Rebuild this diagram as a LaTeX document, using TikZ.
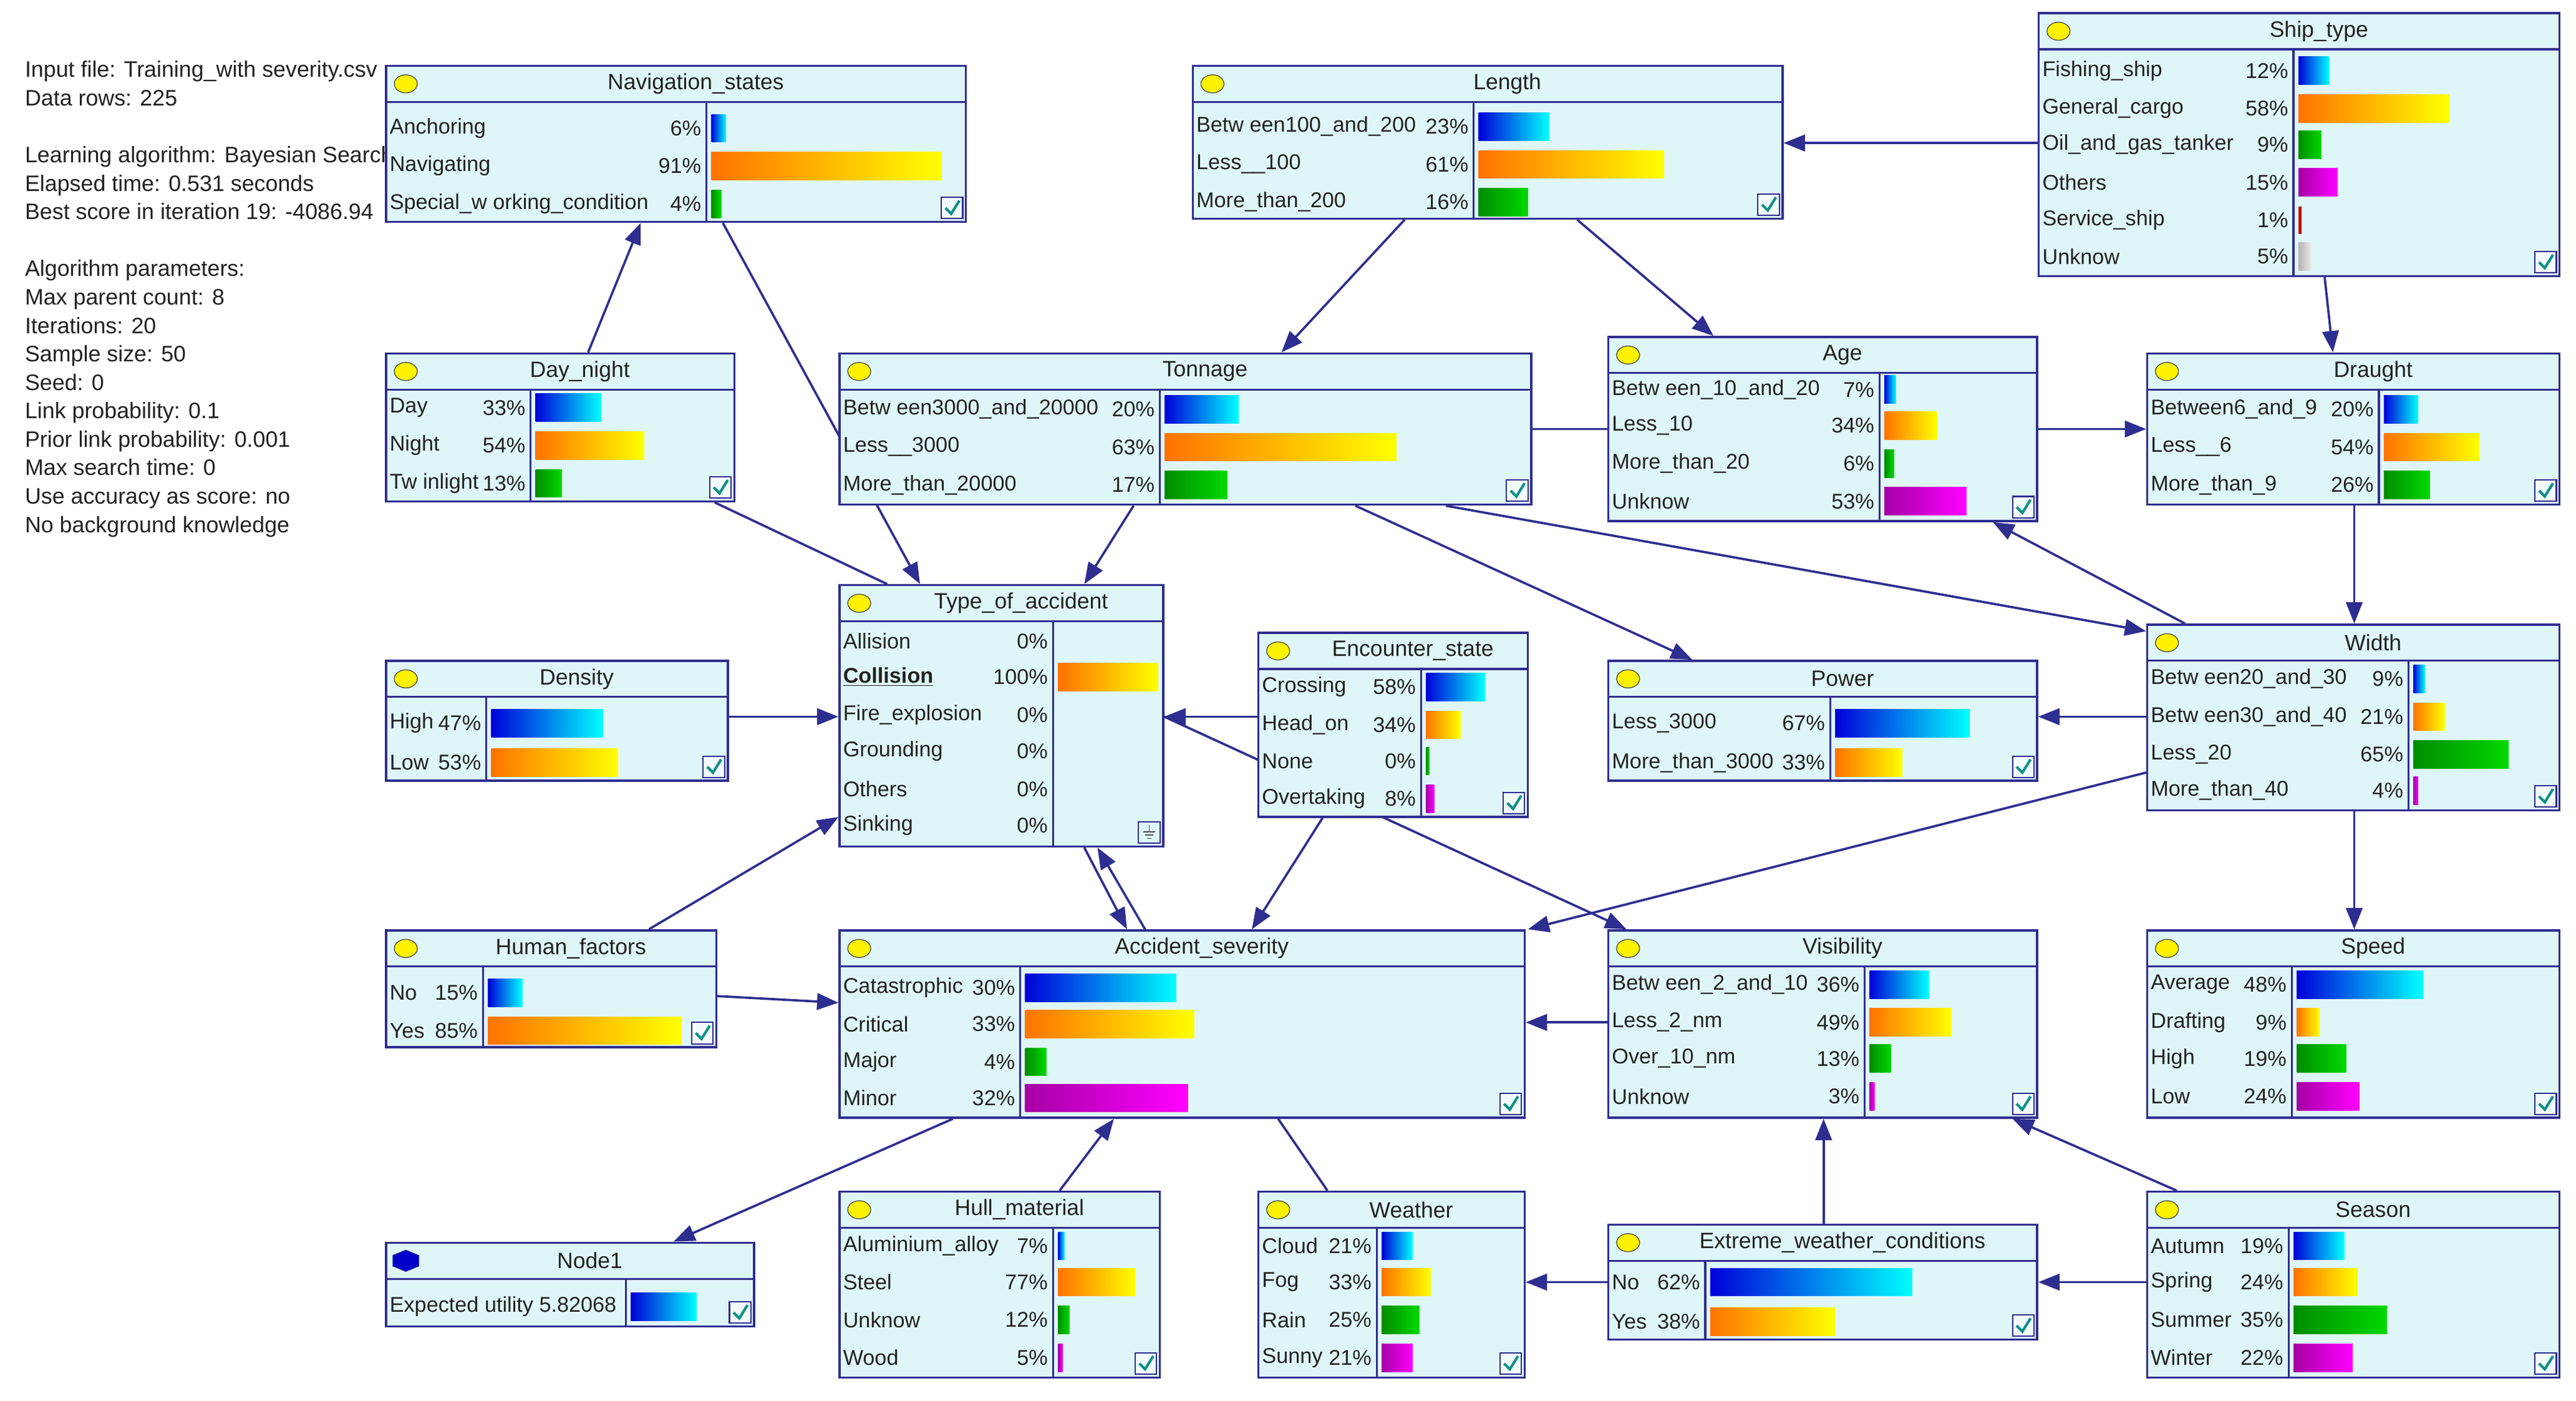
\documentclass[tikz,border=0pt]{standalone}
\usepackage{fontspec}
\setmainfont{Liberation Sans}
\usetikzlibrary{fit,arrows.meta,shapes.geometric}
\definecolor{navy}{HTML}{2E2E90}
\definecolor{bnbg}{HTML}{DFF6F8}
\definecolor{txt}{HTML}{222222}
\definecolor{chk}{HTML}{10908A}
\pgfdeclarelayer{bg}\pgfsetlayers{bg,main}
\tikzset{
 bnbox/.style={draw=navy,fill=bnbg,line width=1.3pt,inner sep=0pt,rectangle},
 bnline/.style={navy,line width=1.2pt},
 lbl/.style={inner sep=0pt,text=txt,font=\fontsize{13}{14}\selectfont},
 ttl/.style={inner sep=0pt,text=txt,font=\fontsize{13.5}{15}\selectfont},
 ar/.style={navy,line width=1.4pt,-{Triangle[length=13pt,width=10pt]}},
 ln/.style={navy,line width=1.4pt},
 gb/.style={left color=blue!85!black,right color=cyan},
 go/.style={left color=orange!90!red,right color=yellow},
 gg/.style={left color=green!55!black,right color=green!85!black},
 gm/.style={left color=violet!70!magenta,right color=magenta},
 gr/.style={fill=red!80!black},
 gy/.style={left color=gray!60,right color=gray!15},
}
\newcommand\bn[7]{%
 \node[bnbox,fit={(#2,#3)(#4,#5)}] (#1) {};
 \draw[bnline] (#2,#3+22) -- (#4,#3+22);
 \draw[bnline] (#6,#3+22) -- (#6,#5);
 \fill[yellow,draw=black!70,line width=0.5pt] (#2+12,#3+11) ellipse (7 and 5.5);
 \node[ttl] at ({(#2+#4)/2+12},#3+11) {#7};
 \def\bx{#2}\def\dx{#6}%
 \draw[navy,line width=0.8pt,fill=white!60!bnbg] (#4-15,#5-15) rectangle (#4-2,#5-2);
 \draw[chk,line width=1.6pt] (#4-12.5,#5-8.5) -- (#4-9,#5-5) -- (#4-4,#5-13);
}
\newcommand\pr[5]{%
 \node[lbl,anchor=west] at (\bx+2,#1) {#2};
 \node[lbl,anchor=east] at (\dx-3,#1) {#3};
 \ifdim #4pt>0pt \path[#5] (\dx+3,#1-8.5) rectangle (\dx+3+#4,#1+8.5);\fi}
\begin{document}
\begin{tikzpicture}[x=1pt,y=-1pt]
\useasboundingbox (0,0) rectangle (1568,852);
\node[lbl,anchor=north west,align=left,font=\fontsize{13.6}{17.3}\selectfont] (info) at (15,37) {Input file: Training\_with severity.csv\\
Data rows: 225\\[17.3pt]
Learning algorithm: Bayesian Search\\
Elapsed time: 0.531 seconds\\
Best score in iteration 19: -4086.94\\[17.3pt]
Algorithm parameters:\\
Max parent count: 8\\
Iterations: 20\\
Sample size: 50\\
Seed: 0\\
Link probability: 0.1\\
Prior link probability: 0.001\\
Max search time: 0\\
Use accuracy as score: no\\
No background knowledge};

\bn{nav}{235}{40}{588}{135}{430}{Navigation\_states}
\pr{78}{Anchoring}{6\%}{9}{gb}
\pr{101}{Navigating}{91\%}{140}{go}
\pr{124}{Special\_w orking\_condition}{4\%}{6}{gg}

\bn{len}{726}{40}{1085}{133}{897}{Length}
\pr{77}{Betw een100\_and\_200}{23\%}{43}{gb}
\pr{100}{Less\_\_100}{61\%}{113}{go}
\pr{123}{More\_than\_200}{16\%}{30}{gg}

\bn{ship}{1241}{8}{1558}{168}{1396}{Ship\_type}
\pr{43}{Fishing\_ship}{12\%}{19}{gb}
\pr{66}{General\_cargo}{58\%}{92}{go}
\pr{88}{Oil\_and\_gas\_tanker}{9\%}{14}{gg}
\pr{111}{Others}{15\%}{24}{gm}
\pr{134}{Service\_ship}{1\%}{2}{gr}
\pr{156}{Unknow}{5\%}{8}{gy}

\bn{day}{235}{215}{447}{305}{323}{Day\_night}
\pr{248}{Day}{33\%}{40}{gb}
\pr{271}{Night}{54\%}{66}{go}
\pr{294}{Tw inlight}{13\%}{16}{gg}

\bn{ton}{511}{215}{932}{307}{706}{Tonnage}
\pr{249}{Betw een3000\_and\_20000}{20\%}{45}{gb}
\pr{272}{Less\_\_3000}{63\%}{141}{go}
\pr{295}{More\_than\_20000}{17\%}{38}{gg}

\bn{age}{979}{205}{1240}{317}{1144}{Age}
\pr{237}{Betw een\_10\_and\_20}{7\%}{7}{gb}
\pr{259}{Less\_10}{34\%}{32}{go}
\pr{282}{More\_than\_20}{6\%}{6}{gg}
\pr{305}{Unknow}{53\%}{50}{gm}

\bn{dra}{1307}{215}{1558}{307}{1448}{Draught}
\pr{249}{Between6\_and\_9}{20\%}{21}{gb}
\pr{272}{Less\_\_6}{54\%}{58}{go}
\pr{295}{More\_than\_9}{26\%}{28}{gg}

\bn{toa}{511}{356}{708}{515}{641}{Type\_of\_accident}
\fill[bnbg] (708-16,515-16) rectangle (708-1.5,515-1.5);
\draw[navy,line width=0.8pt] (708-15,515-15) rectangle (708-2,515-2);
\draw[black!70,line width=0.6pt] (708-8.5,515-13) -- (708-8.5,515-9) (708-12,515-9) -- (708-5,515-9) (708-11,515-7) -- (708-6,515-7) (708-10,515-5) -- (708-7,515-5);
\pr{390}{Allision}{0\%}{0}{gb}
\pr{412}{\underline{\textbf{Collision}}}{100\%}{61}{go}
\pr{435}{Fire\_explosion}{0\%}{0}{gb}
\pr{457}{Grounding}{0\%}{0}{gb}
\pr{480}{Others}{0\%}{0}{gb}
\pr{502}{Sinking}{0\%}{0}{gb}

\bn{enc}{766}{385}{930}{497}{865}{Encounter\_state}
\pr{418}{Crossing}{58\%}{36}{gb}
\pr{441}{Head\_on}{34\%}{21}{go}
\pr{463}{None}{0\%}{2}{gg}
\pr{486}{Overtaking}{8\%}{5}{gm}

\bn{den}{235}{402}{443}{475}{296}{Density}
\pr{440}{High}{47\%}{68}{gb}
\pr{464}{Low}{53\%}{77}{go}

\bn{pow}{979}{402}{1240}{475}{1114}{Power}
\pr{440}{Less\_3000}{67\%}{82}{gb}
\pr{464}{More\_than\_3000}{33\%}{41}{go}

\bn{wid}{1307}{380}{1558}{493}{1466}{Width}
\pr{413}{Betw een20\_and\_30}{9\%}{7}{gb}
\pr{436}{Betw een30\_and\_40}{21\%}{19}{go}
\pr{459}{Less\_20}{65\%}{58}{gg}
\pr{481}{More\_than\_40}{4\%}{3}{gm}

\bn{hum}{235}{566}{436}{637}{294}{Human\_factors}
\pr{604}{No}{15\%}{21}{gb}
\pr{627}{Yes}{85\%}{118}{go}

\bn{sev}{511}{566}{928}{680}{621}{Accident\_severity}
\pr{601}{Catastrophic}{30\%}{92}{gb}
\pr{623}{Critical}{33\%}{103}{go}
\pr{646}{Major}{4\%}{13}{gg}
\pr{668}{Minor}{32\%}{99}{gm}

\bn{vis}{979}{566}{1240}{680}{1135}{Visibility}
\pr{599}{Betw een\_2\_and\_10}{36\%}{36}{gb}
\pr{622}{Less\_2\_nm}{49\%}{50}{go}
\pr{644}{Over\_10\_nm}{13\%}{13}{gg}
\pr{667}{Unknow}{3\%}{3}{gm}

\bn{spd}{1307}{566}{1558}{680}{1395}{Speed}
\pr{599}{Average}{48\%}{77}{gb}
\pr{622}{Drafting}{9\%}{14}{go}
\pr{644}{High}{19\%}{30}{gg}
\pr{667}{Low}{24\%}{38}{gm}

\bn{nd1}{235}{756}{459}{807}{381}{Node1}
\node[regular polygon,regular polygon sides=6,fill=blue!80!black,draw=navy,minimum size=13pt,inner sep=0pt,xscale=1.4,rotate=90] (nd1icon) at (247,767) {};
\node[lbl,anchor=west] at (237,795) {Expected utility 5.82068};
\path[gb] (384,786.5) rectangle (424,803.5);

\bn{hul}{511}{725}{706}{838}{641}{Hull\_material}
\pr{758}{Aluminium\_alloy}{7\%}{4}{gb}
\pr{780}{Steel}{77\%}{47}{go}
\pr{803}{Unknow}{12\%}{7}{gg}
\pr{826}{Wood}{5\%}{3}{gm}

\bn{wea}{766}{725}{928}{838}{838}{Weather}
\pr{758}{Cloud}{21\%}{19}{gb}
\pr{780}{Fog}{33\%}{30}{go}
\pr{803}{Rain}{25\%}{23}{gg}
\pr{826}{Sunny}{21\%}{19}{gm}

\bn{ext}{979}{745}{1240}{815}{1038}{Extreme\_weather\_conditions}
\pr{780}{No}{62\%}{123}{gb}
\pr{804}{Yes}{38\%}{76}{go}

\bn{sea}{1307}{725}{1558}{838}{1393}{Season}
\pr{758}{Autumn}{19\%}{31}{gb}
\pr{780}{Spring}{24\%}{39}{go}
\pr{803}{Summer}{35\%}{57}{gg}
\pr{826}{Winter}{22\%}{36}{gm}

\begin{pgfonlayer}{bg}
\draw[ar] (358,0 |- day.north) -- (390,0 |- nav.south);
\draw[ar] (440,0 |- nav.south) -- (560,0 |- toa.north);
\draw[ar] (690,0 |- ton.south) -- (660,0 |- toa.north);
\draw[ln] (435,0 |- day.south) -- (540,0 |- toa.north);
\draw[ar] (855,0 |- len.south) -- (780,0 |- ton.north);
\draw[ar] (960,0 |- len.south) -- (1043,0 |- age.north);
\draw[ar] (ship.west |- 0,87) -- (len.east |- 0,87);
\draw[ar] (1415,0 |- ship.south) -- (1420,0 |- dra.north);
\draw[ar] (ton.east |- 0,261) -- (dra.west |- 0,261);
\draw[ar] (825,0 |- ton.south) -- (1030,0 |- pow.north);
\draw[ar] (880,0 |- ton.south) -- (wid.west |- 0,384);
\draw[ar] (1330,0 |- wid.north) -- (1213,0 |- age.south);
\draw[ar] (1433,0 |- dra.south) -- (1433,0 |- wid.north);
\draw[ar] (wid.west |- 0,436) -- (pow.east |- 0,436);
\draw[ar] (1433,0 |- wid.south) -- (1433,0 |- spd.north);
\draw[ar] (wid.west |- 0,470) -- (930,0 |- sev.north);
\draw[ar] (enc.west |- 0,436) -- (toa.east |- 0,436);
\draw[ar] (toa.east |- 0,436) -- (990,0 |- vis.north);
\draw[ar] (805,0 |- enc.south) -- (762,0 |- sev.north);
\draw[ar] (660,0 |- toa.south) -- (686,0 |- sev.north);
\draw[ar] (697,0 |- sev.north) -- (668,0 |- toa.south);
\draw[ar] (den.east |- 0,436) -- (toa.west |- 0,436);
\draw[ar] (395,0 |- hum.north) -- (toa.west |- 0,497);
\draw[ar] (hum.east |- 0,606) -- (sev.west |- 0,610);
\draw[ar] (vis.west |- 0,622) -- (sev.east |- 0,622);
\draw[ar] (580,0 |- sev.south) -- (410,0 |- nd1.north);
\draw[ar] (645,0 |- hul.north) -- (678,0 |- sev.south);
\draw[ln] (808,0 |- wea.north) -- (778,0 |- sev.south);
\draw[ar] (ext.west |- 0,780) -- (wea.east |- 0,780);
\draw[ar] (1110,0 |- ext.north) -- (1110,0 |- vis.south);
\draw[ar] (sea.west |- 0,780) -- (ext.east |- 0,780);
\draw[ar] (1325,0 |- sea.north) -- (1225,0 |- vis.south);
\end{pgfonlayer}
\end{tikzpicture}
\end{document}
